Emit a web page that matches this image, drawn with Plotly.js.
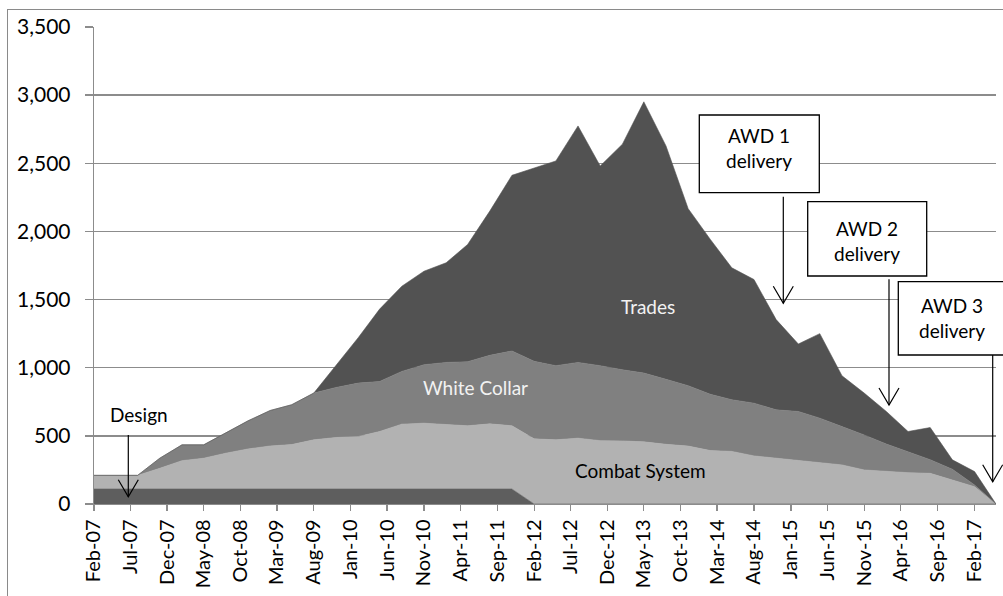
<!DOCTYPE html>
<html>
<head>
<meta charset="utf-8">
<script src="https://cdn.plot.ly/plotly-3.0.1.min.js"></script>
<style>
  html, body { margin: 0; padding: 0; background: #fff; overflow: hidden; }
  #chart { width: 1003px; height: 596px; position: absolute; left: 0; top: 0; }
  #frame { position: absolute; left: 7px; top: 9px; width: 1100px; height: 700px;
           border: 1.5px solid #8a8a8a; pointer-events: none; }
</style>
</head>
<body>
<div id="chart"></div>
<div id="frame"></div>
<script>
// Quarterly observation months
const months = ['2007-02','2007-05','2007-08','2007-11','2008-02','2008-05','2008-08','2008-11',
  '2009-02','2009-05','2009-08','2009-11','2010-02','2010-05','2010-08','2010-11',
  '2011-02','2011-05','2011-08','2011-11','2012-02','2012-05','2012-08','2012-11',
  '2013-02','2013-05','2013-08','2013-11','2014-02','2014-05','2014-08','2014-11',
  '2015-02','2015-05','2015-08','2015-11','2016-02','2016-05','2016-08','2016-11',
  '2017-02','2017-05'];

// Series values (workers)
const design = [110,110,110,110,110,110,110,110,110,110,110,110,110,110,110,110,110,110,110,110,
  0,0,0,0,0,0,0,0,0,0,0,0,0,0,0,0,0,0,0,0,0,0];
const combatSystem = [100,100,100,152,208,226,263,294,316,326,361,378,385,422,476,483,471,464,478,464,
  478,471,483,465,463,456,438,425,392,386,353,336,318,304,287,250,238,230,225,176,127,0];
const whiteCollar = [0,0,0,74,116,98,151,206,260,292,343,367,392,367,387,429,458,470,503,549,
  569,544,556,550,522,505,477,443,413,379,387,355,361,326,281,257,202,155,100,79,13,0];
const trades = [0,0,0,0,0,0,0,0,0,0,0,165,333,531,625,686,731,860,1058,1289,
  1416,1502,1735,1465,1655,1990,1712,1299,1136,968,907,662,495,620,373,307,239,147,236,69,98,0];

// Axis tick labels
const tickLabels = ['Feb-07','Jul-07','Dec-07','May-08','Oct-08','Mar-09','Aug-09','Jan-10','Jun-10',
  'Nov-10','Apr-11','Sep-11','Feb-12','Jul-12','Dec-12','May-13','Oct-13','Mar-14','Aug-14',
  'Jan-15','Jun-15','Nov-15','Apr-16','Sep-16','Feb-17'];

const monNames = {Jan:'01',Feb:'02',Mar:'03',Apr:'04',May:'05',Jun:'06',Jul:'07',Aug:'08',Sep:'09',Oct:'10',Nov:'11',Dec:'12'};
const tickVals = tickLabels.map(s => '20' + s.slice(4) + '-' + monNames[s.slice(0,3)] + '-01');
const xDates = months.map(m => m + '-01');

const FONT = 'Lato, "Open Sans", sans-serif';
const GRID = '#8c8c8c';

function areaTrace(name, vals, color) {
  return {
    type: 'scatter', mode: 'lines', name: name, x: xDates, y: vals,
    stackgroup: 'one', fillcolor: color,
    line: { width: 0.6, color: color }, hoverinfo: 'skip'
  };
}

const data = [
  areaTrace('Design', design, '#5e5e5e'),
  areaTrace('Combat System', combatSystem, '#b2b2b2'),
  areaTrace('White Collar', whiteCollar, '#808080'),
  areaTrace('Trades', trades, '#525252')
];

// pixel -> paper helpers for annotation furniture
const L = 94, T = 27, W = 902, H = 477;
const px = x => (x - L) / W;
const py = y => (T + H - y) / H;

const boxes = [
  [699.3, 115, 819.3, 192.7],
  [807.7, 201.7, 926.7, 276],
  [898.3, 281.7, 1012, 355]
];
const arrows = [
  [128.3, 435, 496.7],
  [783.3, 196.7, 303.3],
  [889, 279.3, 405],
  [992.7, 355, 481.7]
];

const shapes = [];
boxes.forEach(b => shapes.push({
  type: 'rect', xref: 'paper', yref: 'paper',
  x0: px(b[0]), x1: px(b[2]), y0: py(b[3]), y1: py(b[1]),
  line: { color: '#000', width: 1.3 }, fillcolor: '#fff', layer: 'above'
}));
arrows.forEach(a => {
  shapes.push({
    type: 'line', xref: 'paper', yref: 'paper',
    x0: px(a[0]), x1: px(a[0]), y0: py(a[1]), y1: py(a[2]),
    line: { color: '#000', width: 1.2 }, layer: 'above'
  });
  shapes.push({
    type: 'path', xref: 'paper', yref: 'paper',
    path: `M ${px(a[0]-10)},${py(a[2]-17)} L ${px(a[0])},${py(a[2])} L ${px(a[0]+10)},${py(a[2]-17)}`,
    line: { color: '#000', width: 1.2 }, layer: 'above'
  });
});

function label(text, x, y, color, size) {
  return { text: text, xref: 'paper', yref: 'paper', x: px(x), y: py(y),
    xanchor: 'center', yanchor: 'middle', showarrow: false,
    font: { family: FONT, size: size || 19, color: color } };
}

const annotations = [
  label('Design', 138.7, 414, '#000'),
  label('Trades', 648, 306, '#f2f2f2'),
  label('White Collar', 475.5, 387, '#f2f2f2'),
  label('Combat System', 640, 470, '#000'),
  label('AWD 1<br>delivery', 759, 148, '#000'),
  label('AWD 2<br>delivery', 867, 241, '#000'),
  label('AWD 3<br>delivery', 952, 318, '#000')
];

const layout = {
  width: 1003, height: 596,
  margin: { l: L, r: 1003 - L - W, t: T, b: 596 - T - H, pad: 0 },
  paper_bgcolor: 'rgba(0,0,0,0)', plot_bgcolor: '#fff',
  showlegend: false,
  font: { family: FONT, color: '#000' },
  xaxis: {
    type: 'date', range: ['2007-02-01', '2017-05-01'],
    tickmode: 'array', tickvals: tickVals, ticktext: tickLabels,
    tickangle: -90, ticks: 'outside', ticklen: 6, tickcolor: GRID, tickwidth: 1.3,
    showgrid: false, showline: true, linecolor: GRID, linewidth: 1.3,
    tickfont: { family: FONT, size: 20, color: '#000' }, fixedrange: true
  },
  yaxis: {
    range: [0, 3500], dtick: 500, tick0: 0, tickformat: ',d',
    ticks: 'outside', ticklen: 8, tickcolor: GRID, tickwidth: 1.3,
    showgrid: true, gridcolor: GRID, gridwidth: 1.3, zeroline: false,
    showline: true, linecolor: GRID, linewidth: 1.3,
    ticklabelstandoff: 10,
    tickfont: { family: FONT, size: 21, color: '#000' }, fixedrange: true
  },
  shapes: shapes,
  annotations: annotations
};

Plotly.newPlot('chart', data, layout, { displayModeBar: false, staticPlot: true });
</script>
</body>
</html>
